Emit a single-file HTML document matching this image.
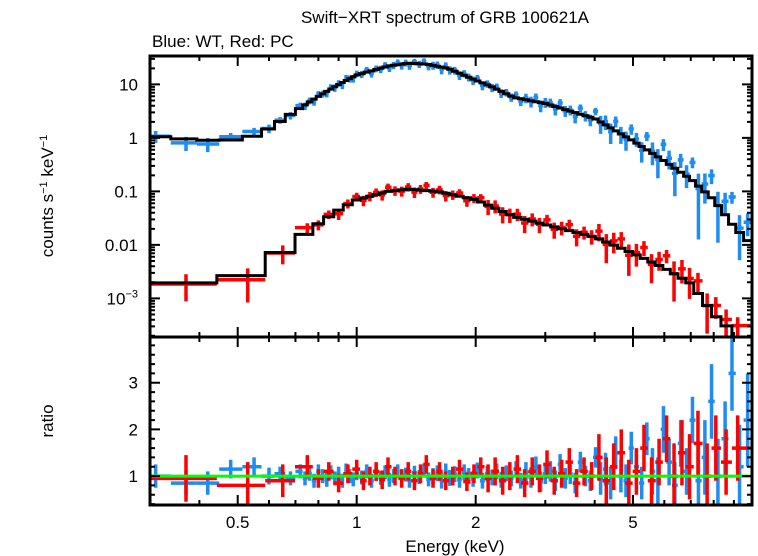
<!DOCTYPE html>
<html><head><meta charset="utf-8"><style>
html,body{margin:0;padding:0;background:#fff;}
svg{display:block;font-family:"Liberation Sans",sans-serif;}
</style></head><body>
<svg id="chart" width="758" height="556" viewBox="0 0 758 556" xmlns="http://www.w3.org/2000/svg">
<text x="445" y="23" font-size="17" text-anchor="middle">Swift−XRT spectrum of GRB 100621A</text>
<text x="152" y="47" font-size="17">Blue: WT, Red: PC</text>
<text transform="translate(53,196) rotate(-90)" font-size="17" text-anchor="middle">counts s<tspan font-size="11" dy="-6">−1</tspan><tspan dy="6"> keV</tspan><tspan font-size="11" dy="-6">−1</tspan></text>
<text transform="translate(53,421) rotate(-90)" font-size="17" text-anchor="middle">ratio</text>
<text x="455" y="552" font-size="17" text-anchor="middle">Energy (keV)</text>
<g id="marks"></g>
</svg>
<script>
// model knots
const modelE = [0.3,0.4,0.5,0.55,0.6,0.65,0.7,0.8,0.9,1.0,1.2,1.35,1.5,1.7,2,2.2,2.5,3,4,5,6,7,8,9,10];
const modelWT = [1.1,0.9,0.92,1.1,1.5,2.2,3.2,6,10,15,22,25,24,20,12,9,5.7,4.4,2.3,0.88,0.37,0.17,0.07,0.022,0.01];
const modelPCE = [0.3,0.44,0.5,0.56,0.62,0.7,0.8,0.9,1.0,1.2,1.35,1.6,2,2.5,3,4,5,6,7,8,9,10];
const modelPC = [0.0019,0.002,0.0026,0.003,0.006,0.012,0.025,0.045,0.07,0.1,0.11,0.1,0.07,0.034,0.024,0.014,0.007,0.0037,0.0019,0.0005,0.00023,0.0001];
// WT data
const wtE = [0.31,0.37,0.42,0.48,0.55,0.6,0.64,0.68,0.72,
0.74,0.76,0.78,0.8,0.82,0.84,0.86,0.88,0.9,0.92,0.94,0.96,0.98,1.0,1.03,1.06,1.09,1.12,1.15,1.18,1.21,1.24,1.27,1.3,1.33,1.36,1.4,1.44,1.48,1.52,1.56,1.6,1.64,1.68,1.72,1.77,1.82,1.87,1.92,1.97,2.02,2.08,2.14,2.2,2.26,2.32,2.39,2.46,2.53,2.6,2.68,2.76,2.84,2.92,3.0,3.09,3.18,3.27,3.37,3.47,3.57,3.68,3.79,3.9,4.02,4.14,4.26,4.39,4.52,4.66,4.8,4.95,5.1,5.26,5.42,5.6,5.78,5.97,6.17,6.38,6.6,6.83,7.07,7.32,7.6,7.9,8.2,8.55,8.9,9.3,9.75];
const wtRatio = [1.0,0.85,0.85,1.15,1.2,1.0,1.05,0.95,1.1,
0.95,1.05,0.9,1.1,1.0,0.92,1.08,0.95,1.05,0.9,1.12,1.0,0.93,1.06,0.97,1.1,0.9,1.04,0.96,1.08,0.92,1.0,1.1,0.94,1.03,0.9,1.07,0.98,1.12,0.93,1.0,1.06,0.9,1.1,0.96,1.04,0.92,1.08,1.0,0.94,1.12,0.9,1.05,0.97,1.1,0.92,1.06,0.95,1.15,0.9,1.08,0.97,1.2,0.88,1.05,1.1,0.9,1.25,0.95,1.05,0.85,1.3,1.0,0.9,1.4,0.95,1.15,0.85,1.5,1.0,0.9,1.6,1.2,0.85,1.8,1.1,0.9,2.0,1.3,0.8,1.7,1.1,2.2,0.9,1.4,2.6,1.0,1.8,3.2,1.2,2.2];
const wtErr = [0.25,0.25,0.25,0.2,0.2,0.18,0.15,0.15,0.15,
0.15,0.15,0.15,0.15,0.15,0.15,0.15,0.15,0.15,0.15,0.15,0.15,0.15,0.15,0.15,0.15,0.15,0.15,0.15,0.15,0.15,0.15,0.15,0.15,0.15,0.15,0.15,0.15,0.15,0.15,
0.17,0.17,0.17,0.17,0.17,0.17,0.17,0.17,0.17,0.17,0.17,0.17,0.17,0.17,0.17,0.17,0.17,0.17,0.17,0.17,
0.22,0.22,0.22,0.22,0.22,0.22,0.22,0.22,0.22,0.22,0.22,0.22,0.22,0.22,0.22,
0.35,0.35,0.35,0.35,0.35,0.35,0.35,0.35,0.35,0.35,
0.5,0.5,0.5,0.5,0.5,0.5,0.5,0.5,
0.8,0.8,0.8,0.8,0.8,0.8,0.9,1.0,1.2];
// PC data
const pcE = [0.37,0.53,0.65,0.75,0.8,0.85,0.9,0.95,1.0,1.04,1.08,1.12,1.16,1.2,1.25,1.3,1.35,1.4,1.45,1.5,1.56,1.62,1.68,1.75,1.82,1.9,1.98,2.06,2.15,2.24,2.34,2.44,2.55,2.66,2.78,2.9,3.03,3.16,3.3,3.45,3.6,3.76,3.93,4.1,4.28,4.47,4.67,4.88,5.1,5.33,5.57,5.82,6.08,6.35,6.65,6.95,7.3,7.7,8.1,8.6,9.2];
const pcRatio = [0.95,0.8,0.9,1.2,0.95,1.1,0.85,1.05,1.15,0.9,1.0,1.1,0.92,1.2,1.0,0.95,1.1,0.9,1.05,1.25,0.95,1.1,0.9,1.0,1.15,0.88,1.05,1.2,0.95,1.1,0.9,1.0,1.15,0.85,1.1,0.95,1.25,0.9,1.05,1.3,0.85,1.1,1.0,1.4,0.9,1.2,1.5,0.85,1.1,1.6,0.9,1.3,1.8,1.0,1.5,1.2,1.7,1.0,1.6,1.3,1.6];
const pcErr = [0.5,0.5,0.35,0.25,0.2,0.2,0.2,0.2,0.2,0.2,0.2,0.2,0.2,0.2,0.2,0.2,0.2,0.2,0.2,0.2,0.2,0.2,0.2,0.2,0.2,0.2,0.2,0.2,
0.3,0.3,0.3,0.3,0.3,0.3,0.3,0.3,0.3,0.3,0.3,0.3,0.3,0.3,0.3,
0.5,0.5,0.5,0.5,0.5,0.5,0.5,0.5,0.5,0.5,
0.7,0.7,0.7,0.7,0.7,0.7,0.7,0.7];
const xTickLabels = ["0.5","1","2","5"];
const xTickVals = [0.5,1,2,5];
const yTopVals = [0.01,0.1,1,10];
const yTopLabels = ["0.01","0.1","1","10"];
const yRatioVals = [1,2,3];
const yRatioLabels = ["1","2","3"];

const L=150,R=752,T1=56,B1=337,B2=505;
const xMinL=Math.log10(0.3), xMaxL=Math.log10(10);
function X(e){return L+(Math.log10(e)-xMinL)/(xMaxL-xMinL)*(R-L);}
const yTopL=Math.log10(34), yBotL=Math.log10(0.00019);
function Y1(v){return T1+(yTopL-Math.log10(Math.max(v,1e-6)))/(yTopL-yBotL)*(B1-T1);}
const rTop=3.98,rBot=0.38;
function Y2(v){return B1+(rTop-v)/(rTop-rBot)*(B2-B1);}
function interp(xs,ys,e){
  const le=Math.log10(e);
  for(let i=0;i<xs.length-1;i++){
    const a=Math.log10(xs[i]),b=Math.log10(xs[i+1]);
    if(le<=b||i==xs.length-2){const t=(le-a)/(b-a);return Math.pow(10,Math.log10(ys[i])+t*(Math.log10(ys[i+1])-Math.log10(ys[i])));}
  }
}
const NS="http://www.w3.org/2000/svg";
const g=document.getElementById('marks');
function mk(tag,attrs,parent){const el=document.createElementNS(NS,tag);for(const k in attrs)el.setAttribute(k,attrs[k]);(parent||g).appendChild(el);return el;}
function clip(id,y0,y1){const d=mk('clipPath',{id:id});mk('rect',{x:L,y:y0,width:R-L,height:y1-y0},d);}
clip('c1',T1,B1);clip('c2',B1,B2);
function edges(E){
  const lo=[],hi=[];
  for(let i=0;i<E.length;i++){
    const p=i>0?Math.sqrt(E[i-1]*E[i]):E[i]*E[i]/Math.sqrt(E[i]*E[i+1]);
    const n=i<E.length-1?Math.sqrt(E[i]*E[i+1]):E[i]*E[i]/Math.sqrt(E[i-1]*E[i]);
    lo.push(p);hi.push(n);
  }
  lo[0]=0.3;hi[E.length-1]=10;return [lo,hi];
}
function drawSeries(name,E0,ratio,err,mE,mV,color){
  const n=Math.min(E0.length,ratio.length);
  const E=E0.slice(0,n);
  const [lo,hi]=edges(E);
  const gTop=mk('g',{'clip-path':'url(#c1)'});
  
  
  const gBot=mk('g',{'clip-path':'url(#c2)'});
  
  
  for(let i=0;i<n;i++){
    const m=interp(mE,mV,E[i]);
    const er=err[Math.min(i,err.length-1)];
    const v=m*ratio[i];
    const vl=m*Math.max(ratio[i]-er,0.02), vh=m*(ratio[i]+er);
    const h1=mk('path',{d:`M${X(lo[i])},${Y1(v)}H${X(hi[i])}M${X(E[i])},${Y1(vl)}V${Y1(vh)}`,stroke:color,'stroke-width':3.5,fill:'none'},gTop);
    
    
    const h2=mk('path',{d:`M${X(lo[i])},${Y2(ratio[i])}H${X(hi[i])}M${X(E[i])},${Y2(ratio[i]-er)}V${Y2(ratio[i]+er)}`,stroke:color,'stroke-width':3.5,fill:'none'},gBot);
    
    
  }
  return [lo,hi];
}
function drawModel(name,lo,hi,mE,mV){
  let d='';
  for(let i=0;i<lo.length;i++){
    const y=Y1(interp(mE,mV,Math.sqrt(lo[i]*hi[i])));
    d+=(i==0?'M':'L')+X(lo[i])+','+y+'H'+X(hi[i]);
  }
  const p=mk('path',{d:d,stroke:'#000','stroke-width':3,fill:'none','clip-path':'url(#c1)'});
  
  
}
const [wlo,whi]=drawSeries('wt',wtE,wtRatio,wtErr,modelE,modelWT,'#1e8cf0');
const [plo,phi]=drawSeries('pc',pcE,pcRatio,pcErr,modelPCE,modelPC,'#ff0000');
drawModel('wt',wlo,whi,modelE,modelWT);
drawModel('pc',plo,phi,modelPCE,modelPC);
const gl=mk('line',{x1:L,x2:R,y1:Y2(1),y2:Y2(1),stroke:'#00ff00','stroke-width':3});


for(const [y0,y1,n] of [[T1,B1,'top-panel-frame'],[B1,B2,'ratio-panel-frame']]){
  const f=mk('rect',{x:L,y:y0,width:R-L,height:y1-y0,fill:'none',stroke:'#000','stroke-width':3});
  
  
}
let td='';
const xMinor=[0.3,0.4,0.6,0.7,0.8,0.9,3,4,6,7,8,9];
for(const [y0,y1] of [[T1,B1],[B1,B2]]){
  for(const v of xTickVals){td+=`M${X(v)},${y1}v-10M${X(v)},${y0}v10`;}
  for(const v of xMinor){td+=`M${X(v)},${y1}v-5M${X(v)},${y0}v5`;}
}
for(let d=-4;d<=1;d++)for(let k=1;k<=9;k++){
  const v=k*Math.pow(10,d);const y=Y1(v);if(y<T1||y>B1)continue;
  const len=k==1?10:5;td+=`M${L},${y}h${len}M${R},${y}h${-len}`;
}
for(let v=0.4;v<=3.95;v+=0.2){const y=Y2(v);const major=Math.abs(v-Math.round(v))<0.01;const len=major?10:5;td+=`M${L},${y}h${len}M${R},${y}h${-len}`;}
const tk=mk('path',{d:td,stroke:'#000','stroke-width':2,fill:'none'});


for(let i=0;i<xTickVals.length;i++){
  const t=mk('text',{x:X(xTickVals[i]),y:528,'font-size':17,'text-anchor':'middle'});t.textContent=xTickLabels[i];
  
  
}
for(let i=0;i<yTopVals.length;i++){
  const t=mk('text',{x:138,y:Y1(yTopVals[i])+6,'font-size':17,'text-anchor':'end'});t.textContent=yTopLabels[i];
  
  
}
const t3=mk('text',{x:138,y:Y1(0.001)+6,'font-size':17,'text-anchor':'end'});
t3.innerHTML='10<tspan font-size="11" dy="-7">−3</tspan>';


for(let i=0;i<yRatioVals.length;i++){
  const t=mk('text',{x:138,y:Y2(yRatioVals[i])+6,'font-size':17,'text-anchor':'end'});t.textContent=yRatioLabels[i];
  
  
}
</script>
</body></html>
